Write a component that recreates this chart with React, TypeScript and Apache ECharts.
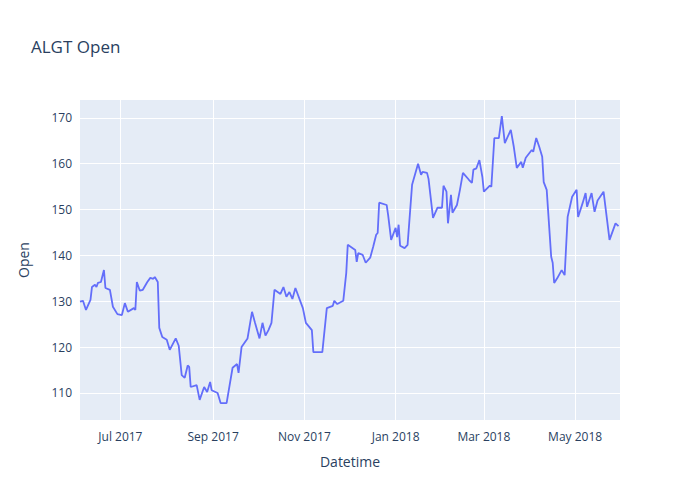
import React, { useEffect, useRef } from "react";
import * as echarts from "echarts";

// day offsets from 2017-07-01
const dayOffsets = [-27,-25,-23,-20,-19,-17,-16,-15,-13,-11,-10,-7,-5,-2,1,3,5,9,10,11,13,15,18,20,22,23,25,26,28,31,33,37,39,41,43,45,46,47,51,53,56,58,60,61,65,67,71,75,78,79,81,85,88,90,93,95,97,99,101,103,
107,109,111,113,115,117,122,124,128,129,135,138,142,143,145,149,151,152,157,158,159,162,164,167,169,171,172,173,178,179,181,184,185,186,187,190,192,195,199,201,202,205,206,209,212,215,216,218,219,
221,222,225,227,229,233,235,236,238,240,242,243,247,248,250,253,255,257,261,263,265,268,269,271,275,276,278,280,282,283,285,288,289,290,292,295,297,299,302,305,306,309,311,312,315,317,319,323,327,331,333];
const openValues = [129.9,130.1,128.1,130.3,133.1,133.6,133.1,134,134.2,136.8,132.9,132.5,128.8,127.2,127,129.6,127.7,128.5,128.1,134.2,132.3,132.5,134.2,135.1,134.9,135.3,134.2,124.2,122.2,121.6,119.4,121.9,120.3,113.9,113.3,116,115.7,111.3,111.7,108.5,111.3,110.2,112.4,110.6,110,107.8,107.8,115.5,116.3,114.4,120,121.9,127.7,125.3,121.9,125.3,122.5,123.7,125.3,132.5,
131.6,133.1,131,132,130.5,132.9,128.5,125.3,123.7,118.9,118.9,128.5,129,130.1,129.4,130.1,136.2,142.3,141.2,138.6,140.5,140.1,138.4,139.5,141.9,144.5,144.9,151.5,151,148.8,143.4,146,144,146.7,142.1,141.6,142.3,155.4,160,157.6,158.2,158,156.7,148.2,150.4,150.4,155.2,153.9,147,
153.2,149.3,151,154.3,158,156.5,155.8,158.7,159,160.8,157.1,153.9,155.2,155,165.6,165.6,170.4,164.5,167.4,163.7,159.1,160.4,159.1,161.3,163,162.6,165.6,163.7,161.5,156,154.3,139.7,138.4,134,135,136.8,135.7,148.4,152.8,154.3,148.4,151.4,153.6,150.6,153.6,149.5,152,153.9,143.4,147,146.4];
const yTicks = [110, 120, 130, 140, 150, 160, 170];
const xTickDates = ["2017-07-01", "2017-09-01", "2017-11-01", "2018-01-01", "2018-03-01", "2018-05-01"];
const xTickLabels = ["Jul 2017", "Sep 2017", "Nov 2017", "Jan 2018", "Mar 2018", "May 2018"];

const DAY = 86400000;
const base = Date.UTC(2017, 6, 1);
const toDay = (s: string) => { const [y, m, d] = s.split("-").map(Number); return (Date.UTC(y, m - 1, d) - base) / DAY; };

export default function App() {
  const ref = useRef<HTMLDivElement>(null);
  useEffect(() => {
    const chart = echarts.init(ref.current!, null, { renderer: "svg" });
    const data = dayOffsets.map((o, i) => [o, openValues[i]]);
    const xDays = xTickDates.map(toDay);
    const font = "Open Sans, Noto Sans, sans-serif";
    chart.setOption({
      animation: false,
      title: { text: "ALGT Open", left: 26, top: 33, textStyle: { fontFamily: font, fontSize: 17, fontWeight: "normal", color: "#2a3f5f" } },
      grid: { left: 80, right: 80, top: 100, bottom: 80, show: true, backgroundColor: "#e5ecf6", borderWidth: 0 },
      xAxis: {
        type: "value",
        min: -27, max: 334,
        name: "Datetime", nameLocation: "middle", nameGap: 34,
        nameTextStyle: { fontFamily: font, fontSize: 14, color: "#2a3f5f" },
        axisLine: { show: false }, axisTick: { show: false, customValues: xDays },
        axisLabel: { customValues: xDays, fontFamily: font, fontSize: 12, color: "#2a3f5f", margin: 10,
          formatter: (v: number) => { const i = xDays.indexOf(v); return i >= 0 ? xTickLabels[i] : ""; } },
        splitLine: { show: true, lineStyle: { color: "#ffffff", width: 1 } },
      },
      yAxis: {
        type: "value", min: 104.1, max: 173.9,
        name: "Open", nameLocation: "middle", nameGap: 50,
        nameTextStyle: { fontFamily: font, fontSize: 14, color: "#2a3f5f" },
        axisLine: { show: false }, axisTick: { show: false, customValues: yTicks },
        axisLabel: { customValues: yTicks, fontFamily: font, fontSize: 12, color: "#2a3f5f", margin: 8 },
        splitLine: { show: true, lineStyle: { color: "#ffffff", width: 1 } },
      },
      series: [{ type: "line", data, showSymbol: false, symbol: "none", lineStyle: { color: "#636efa", width: 1.8 } }],
    });
    return () => chart.dispose();
  }, []);
  return <div ref={ref} style={{ width: 700, height: 500, margin: -8 }} />;
}
